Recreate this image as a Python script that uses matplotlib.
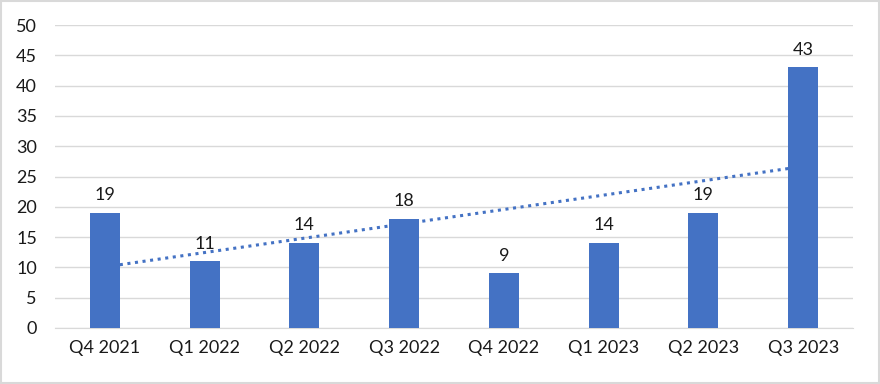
import matplotlib
matplotlib.use("Agg")
import matplotlib.pyplot as plt
import numpy as np

categories = ["Q4 2021", "Q1 2022", "Q2 2022", "Q3 2022", "Q4 2022", "Q1 2023", "Q2 2023", "Q3 2023"]
values = [19, 11, 14, 18, 9, 14, 19, 43]
yticks = [0, 5, 10, 15, 20, 25, 30, 35, 40, 45, 50]

plt.rcParams['font.family'] = ['Lato', 'DejaVu Sans']

fig = plt.figure(figsize=(8.8, 3.84), dpi=100)
ax = fig.add_axes([55/880, 1 - 328/384, (853-55)/880, (328-25)/384])

x = np.arange(len(categories))
bw = 0.3
bar_color = "#4472C4"
text_color = "#1a1a1a"
ax.bar(x, values, width=bw, color=bar_color, zorder=3)

for xi, v in zip(x, values):
    ax.annotate(str(v), (xi, v), xytext=(0, 7), textcoords="offset points",
                ha="center", va="bottom", fontsize=13, color=text_color, zorder=5)

# linear trendline
slope, intercept = np.polyfit(x, values, 1)
tx = np.array([x[0] + bw/2, x[-1] - bw/2])
ax.plot(tx, slope*tx + intercept, linestyle=(0, (1, 1.5)), color=bar_color,
        linewidth=2.2, zorder=4)

ax.set_xlim(-0.5, len(categories) - 0.5)
ax.set_ylim(0, 50)
ax.set_yticks(yticks)
ax.set_yticklabels([str(t) for t in yticks])
ax.set_xticks(x)
ax.set_xticklabels(categories)
ax.tick_params(axis='both', length=0, labelsize=13, colors=text_color)
ax.tick_params(axis='y', pad=13)
ax.tick_params(axis='x', pad=9)
ax.grid(axis='y', color="#D9D9D9", linewidth=1, zorder=0)
for s in ["top", "right", "left"]:
    ax.spines[s].set_visible(False)
ax.spines["bottom"].set_color("#D9D9D9")
ax.spines["bottom"].set_zorder(1)

# outer frame
fig.patches.append(plt.Rectangle((0.001, 0.002), 0.998, 0.996, transform=fig.transFigure,
                                 fill=False, edgecolor="#D9D9D9", linewidth=1.5))

fig.savefig("out.png", dpi=100)
